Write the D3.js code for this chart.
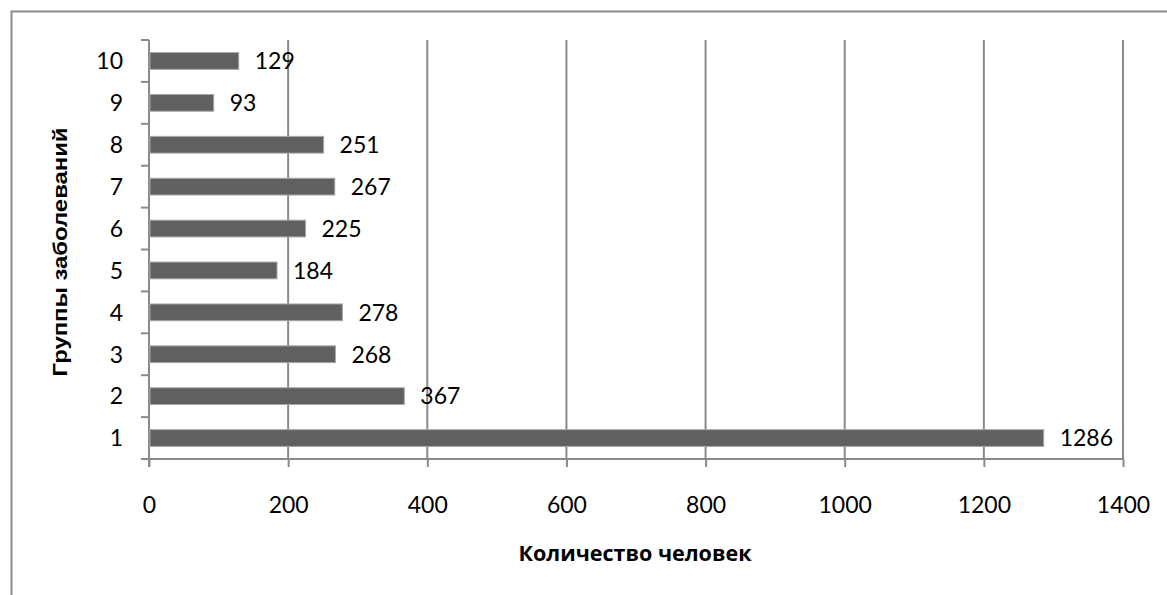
<!DOCTYPE html>
<html>
<head>
<meta charset="utf-8">
<script src="https://cdn.jsdelivr.net/npm/d3@7"></script>
<style>
  html, body { margin: 0; padding: 0; background: #fff; }
  svg { display: block; }
</style>
</head>
<body>
<div id="chart"></div>
<script>
// Группы заболеваний и количество человек
const categories = ['1', '2', '3', '4', '5', '6', '7', '8', '9', '10'];
const values = [1286, 367, 268, 278, 184, 225, 267, 251, 93, 129];
const xTicks = [0, 200, 400, 600, 800, 1000, 1200, 1400];

const width = 1167, height = 595;
const plot = { left: 149, right: 1123, top: 40, bottom: 459 };
const gridColor = '#8a8a8a';
const numFont = 'Lato, "Open Sans", sans-serif';

const svg = d3.select('#chart').append('svg')
  .attr('width', width)
  .attr('height', height);

// внешняя рамка (обрезана справа и снизу)
svg.append('path')
  .attr('d', `M11.5,${height} V11.5 H${width}`)
  .attr('fill', 'none')
  .attr('stroke', gridColor)
  .attr('stroke-width', 2);

const x = d3.scaleLinear().domain([0, 1400]).range([plot.left, plot.right]);
const y = d3.scaleBand()
  .domain(categories.slice().reverse())
  .range([plot.top, plot.bottom])
  .paddingInner(0.6)
  .paddingOuter(0.3);

// вертикальные линии сетки
svg.append('g')
  .selectAll('line')
  .data(xTicks.slice(1))
  .join('line')
  .attr('x1', d => x(d)).attr('x2', d => x(d))
  .attr('y1', plot.top).attr('y2', plot.bottom)
  .attr('stroke', gridColor)
  .attr('stroke-width', 2);

// ось X
const xAxis = svg.append('g')
  .attr('transform', `translate(0,${plot.bottom})`)
  .call(d3.axisBottom(x).tickValues(xTicks).tickFormat(d3.format('d')).tickSize(8).tickPadding(30));
xAxis.select('.domain').attr('stroke', gridColor).attr('stroke-width', 2)
  .attr('d', `M${plot.left - 8},0H${plot.right}`);
xAxis.selectAll('.tick line').attr('stroke', gridColor).attr('stroke-width', 2);
xAxis.selectAll('.tick text')
  .attr('fill', '#000')
  .style('font-family', numFont)
  .style('font-size', '23px');

// ось Y: деления между категориями
const step = (plot.bottom - plot.top) / categories.length;
const yTicks = d3.range(categories.length + 1).map(i => plot.top + i * step);
svg.append('g')
  .selectAll('line')
  .data(yTicks)
  .join('line')
  .attr('x1', plot.left - 8).attr('x2', plot.left)
  .attr('y1', d => d).attr('y2', d => d)
  .attr('stroke', gridColor)
  .attr('stroke-width', 2);
svg.append('line')
  .attr('x1', plot.left).attr('x2', plot.left)
  .attr('y1', plot.top).attr('y2', plot.bottom + 8)
  .attr('stroke', gridColor)
  .attr('stroke-width', 2);

svg.append('g')
  .selectAll('text')
  .data(categories)
  .join('text')
  .attr('x', 123)
  .attr('y', d => y(d) + y.bandwidth() / 2)
  .attr('dy', '0.36em')
  .attr('text-anchor', 'end')
  .style('font-family', numFont)
  .style('font-size', '23px')
  .text(d => d);

// столбцы
svg.append('g')
  .selectAll('rect')
  .data(categories)
  .join('rect')
  .attr('x', x(0) + 1)
  .attr('y', d => y(d))
  .attr('width', (d, i) => x(values[i]) - x(0) - 1)
  .attr('height', y.bandwidth())
  .attr('fill', '#606060')
  .attr('stroke', '#a8a8a8')
  .attr('stroke-width', 1);

// подписи значений
svg.append('g')
  .selectAll('text')
  .data(categories)
  .join('text')
  .attr('x', (d, i) => x(values[i]) + 16)
  .attr('y', d => y(d) + y.bandwidth() / 2)
  .attr('dy', '0.36em')
  .style('font-family', numFont)
  .style('font-size', '23px')
  .text((d, i) => values[i]);

// подписи осей
svg.append('text')
  .attr('x', 635)
  .attr('y', 561)
  .attr('text-anchor', 'middle')
  .attr('textLength', 233)
  .attr('lengthAdjust', 'spacingAndGlyphs')
  .style('font-family', '"Open Sans", Lato, sans-serif')
  .style('font-weight', 'bold')
  .style('font-size', '22px')
  .text('Количество человек');

svg.append('text')
  .attr('transform', `translate(67,${252}) rotate(-90)`)
  .attr('text-anchor', 'middle')
  .attr('textLength', 249)
  .attr('lengthAdjust', 'spacingAndGlyphs')
  .style('font-family', '"Liberation Sans", Arial, sans-serif')
  .style('font-weight', 'bold')
  .style('font-size', '20px')
  .text('Группы заболеваний');
</script>
</body>
</html>
